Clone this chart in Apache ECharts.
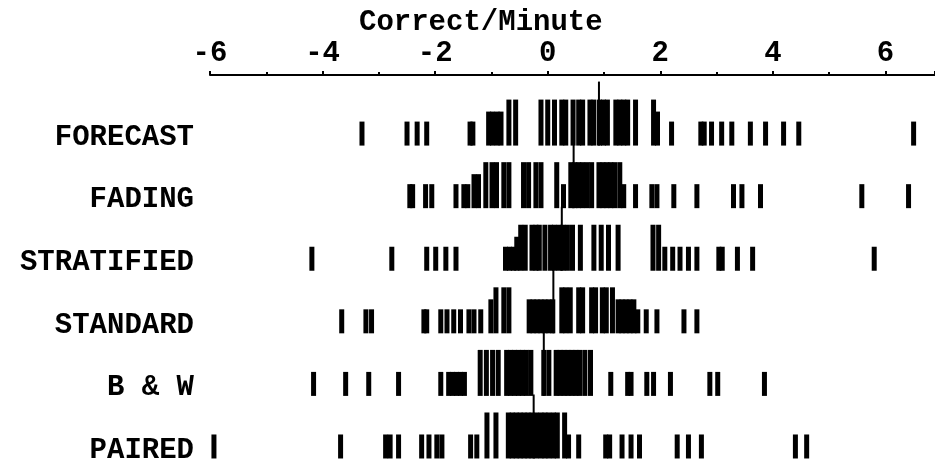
<!DOCTYPE html>
<html>
<head>
<meta charset="utf-8">
<script src="https://cdn.jsdelivr.net/npm/echarts@6/dist/echarts.min.js"></script>
<style>html,body{margin:0;padding:0;background:#fff}#c{width:935px;height:465px}</style>
</head>
<body>
<div id="c"></div>
<script>
// Row names (top to bottom)
const rows = ['FORECAST', 'FADING', 'STRATIFIED', 'STANDARD', 'B & W', 'PAIRED'];
// x-axis tick labels
const xTicks = [-6, -4, -2, 0, 2, 4, 6];
// Row means (thin tall line)
const means = [0.91, 0.46, 0.25, 0.10, -0.07, -0.25];

// Each observation: [value, height level 1=short, 2=medium, 3=tall]
const forecast = [
  [-3.30,1],[-2.50,1],[-2.32,1],[-2.15,1],[-1.38,1],[-1.33,1],
  [-1.05,2],[-0.98,2],[-0.90,2],[-0.83,2],[-0.69,3],[-0.57,3],
  [-0.12,3],[0.00,3],[0.12,3],[0.25,3],[0.32,3],[0.45,3],[0.55,3],[0.62,3],[0.75,3],[0.82,3],
  [0.92,3],[0.99,3],[1.06,3],[1.21,3],[1.28,3],[1.35,3],[1.42,3],[1.56,3],[1.88,3],[1.95,2],
  [2.20,1],[2.72,1],[2.78,1],[2.91,1],[3.09,1],[3.27,1],[3.60,1],[3.87,1],[4.19,1],[4.46,1],[6.50,1]
];
const fading = [
  [-2.45,1],[-2.40,1],[-2.17,1],[-2.06,1],[-1.63,1],[-1.49,1],[-1.42,1],[-1.31,2],[-1.23,2],
  [-1.10,3],[-0.99,3],[-0.91,3],[-0.78,3],[-0.69,3],[-0.43,3],[-0.34,3],[-0.21,3],[-0.12,3],
  [0.16,3],[0.28,1],[0.41,3],[0.48,3],[0.55,3],[0.62,3],[0.70,3],[0.78,3],[0.91,3],[0.98,3],
  [1.05,3],[1.12,3],[1.19,3],[1.28,3],[1.35,1],[1.56,1],[1.85,1],[1.94,1],[2.24,1],[2.65,1],
  [3.30,1],[3.45,1],[3.78,1],[5.58,1],[6.41,1]
];
const stratified = [
  [-4.19,1],[-2.77,1],[-2.15,1],[-1.99,1],[-1.81,1],[-1.63,1],
  [-0.75,1],[-0.68,1],[-0.61,1],[-0.55,2],[-0.48,3],[-0.40,3],[-0.28,3],[-0.21,3],
  [-0.15,3],[-0.05,3],[0.05,3],[0.12,3],[0.20,3],[0.27,3],[0.35,3],[0.44,3],[0.58,3],
  [0.82,3],[0.95,3],[1.08,3],[1.25,3],[1.87,3],[1.97,3],[2.08,1],[2.22,1],[2.35,1],[2.50,1],
  [2.65,1],[3.04,1],[3.10,1],[3.37,1],[3.64,1],[5.80,1]
];
const standard = [
  [-3.66,1],[-3.23,1],[-3.13,1],[-2.20,1],[-2.15,1],[-1.90,1],[-1.79,1],[-1.67,1],[-1.55,1],
  [-1.40,1],[-1.31,1],[-1.19,1],[-1.01,2],[-0.92,3],[-0.78,3],[-0.69,3],
  [-0.33,2],[-0.26,2],[-0.19,2],[-0.12,2],[-0.05,2],[0.02,2],[0.09,2],
  [0.25,3],[0.32,3],[0.40,3],[0.55,3],[0.62,3],[0.78,3],[0.85,3],[0.97,3],[1.04,3],[1.15,3],
  [1.25,2],[1.32,2],[1.39,2],[1.46,2],[1.53,2],[1.60,1],[1.75,1],[1.94,1],[2.42,1],[2.65,1]
];
const bw = [
  [-4.16,1],[-3.59,1],[-3.18,1],[-2.65,1],[-1.90,1],[-1.76,1],[-1.69,1],[-1.62,1],[-1.55,1],
  [-1.48,1],[-1.20,3],[-1.09,3],[-0.98,3],[-0.88,3],[-0.73,3],[-0.66,3],[-0.59,3],[-0.52,3],
  [-0.45,3],[-0.38,3],[-0.30,3],[-0.07,3],[0.02,3],[0.15,3],[0.22,3],[0.29,3],[0.36,3],[0.43,3],
  [0.50,3],[0.57,3],[0.66,3],[0.76,3],[1.12,1],[1.42,1],[1.48,1],[1.76,1],[1.88,1],[2.18,1],
  [2.88,1],[3.02,1],[3.85,1]
];
const paired = [
  [-5.93,1],[-3.68,1],[-2.88,1],[-2.80,1],[-2.65,1],[-2.24,1],[-2.11,1],[-1.97,1],[-1.88,1],
  [-1.37,1],[-1.26,1],[-1.08,3],[-0.92,3],[-0.70,3],[-0.63,3],[-0.56,3],[-0.49,3],[-0.42,3],
  [-0.35,3],[-0.28,3],[-0.20,3],[-0.12,3],[-0.05,3],[0.02,3],[0.10,3],[0.17,3],[0.30,3],[0.37,1],
  [0.55,1],[1.03,1],[1.10,1],[1.32,1],[1.48,1],[1.63,1],[2.30,1],[2.50,1],[2.73,1],[4.40,1],[4.60,1]
];

const rowData = [forecast, fading, stratified, standard, bw, paired];
const marks = [];
rowData.forEach((arr, r) => arr.forEach(d => marks.push([d[0], r, d[1]])));
const meanData = means.map((m, r) => [m, r]);

const HEIGHT = {1: 24, 2: 34, 3: 46};
const BASE_OFF = 8;
const FONT = 'Liberation Mono';

const chart = echarts.init(document.getElementById('c'), null, {renderer: 'canvas'});
chart.setOption({
  backgroundColor: '#fff',
  animation: false,
  title: {
    text: 'Correct/Minute', left: 354, top: 3,
    textStyle: {fontFamily: FONT, fontSize: 29, fontWeight: 'bold', color: '#000'}
  },
  grid: {left: 210, right: 0, top: 75, height: 388, containLabel: false},
  xAxis: {
    type: 'value', position: 'top', min: -6, max: 6.88, interval: 2,
    axisLine: {show: true, onZero: false, lineStyle: {color: '#000', width: 2}},
    axisTick: {show: true, length: 4, lineStyle: {color: '#000', width: 2}},
    minorTick: {show: true, splitNumber: 2, length: 3, lineStyle: {color: '#000', width: 2}},
    splitLine: {show: false},
    axisLabel: {
      show: true, margin: 7, color: '#000', fontFamily: FONT, fontSize: 29, fontWeight: 'bold',
      formatter: v => (xTicks.indexOf(v) >= 0 ? String(v) : ''),
      showMaxLabel: false
    }
  },
  yAxis: {
    type: 'value', inverse: true, min: -1, max: 5.2, interval: 1,
    axisLine: {show: false}, axisTick: {show: false}, splitLine: {show: false},
    axisLabel: {
      show: true, margin: 16, color: '#000', fontFamily: FONT, fontSize: 29, fontWeight: 'bold',
      formatter: v => (v >= 0 && v < rows.length && Number.isInteger(v) ? rows[v] : ''),
      showMaxLabel: false
    }
  },
  series: [
    {
      type: 'custom', data: meanData, clip: false,
      renderItem: (params, api) => {
        const p = api.coord([api.value(0), api.value(1)]);
        const base = p[1] + BASE_OFF;
        return {type: 'rect', shape: {x: p[0] - 1, y: base - 64, width: 2, height: 64}, style: {fill: '#000'}};
      }
    },
    {
      type: 'custom', data: marks, clip: false,
      renderItem: (params, api) => {
        const p = api.coord([api.value(0), api.value(1)]);
        const base = p[1] + BASE_OFF;
        const h = HEIGHT[api.value(2)];
        return {type: 'rect', shape: {x: p[0] - 2.5, y: base - h, width: 5, height: h}, style: {fill: '#000'}};
      }
    }
  ]
});
</script>
</body>
</html>
